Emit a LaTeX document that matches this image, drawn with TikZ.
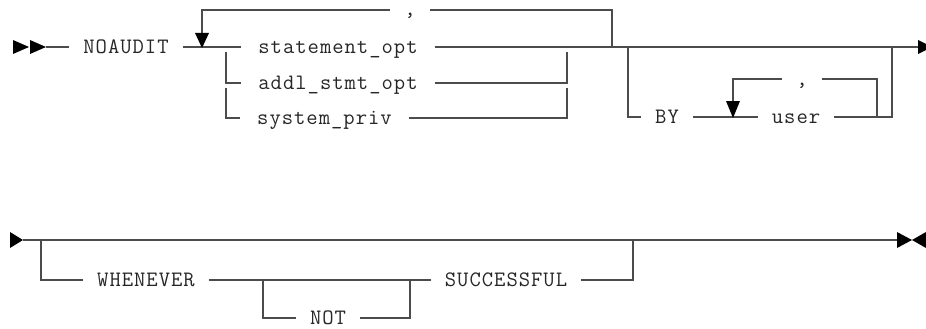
\documentclass[tikz,border=0pt]{standalone}
\usepackage{fontspec}
\newfontfamily\rrfont[LetterSpace=4.5]{Latin Modern Mono}
\begin{document}
\begin{tikzpicture}[x=1pt,y=-1pt,
  rr/.style={draw=black!70,line width=1.3pt},
  term/.style={font=\rrfont\fontsize{22}{26}\selectfont, text=black!85,
    inner xsep=14pt, inner ysep=0pt, text height=14pt, text depth=2pt},
  tipfill/.style={fill=black}]
\useasboundingbox (0,0) rectangle (926,329);

% ---------- row 1 nodes ----------
\node[term] (noaudit) at (126,47) {NOAUDIT};
\node[term,inner xsep=17pt] (stmt) at (338,47) {statement\_opt};
\node[term,inner xsep=17pt] (addl) at (338,83) {addl\_stmt\_opt};
\node[term,inner xsep=17pt,anchor=west] (sysp) at (240,118) {system\_priv};
\node[term] (comma1) at (410,10) {,};
\node[term] (by) at (667,117) {BY};
\node[term] (user) at (796,117) {user};
\node[term] (comma2) at (802,79) {,};

% ---------- row 1 connectors ----------
\fill[tipfill] (13,40) -- (29,47) -- (13,54) -- cycle;
\fill[tipfill] (30,40) -- (46,47) -- (30,54) -- cycle;
\draw[rr] (46,47) -- (noaudit.west);
\draw[rr] (noaudit.east) -- (stmt.west);
\draw[rr] (stmt.east) -- (918,47);
\fill[tipfill] (918,40) -- (932,47) -- (918,54) -- cycle;

\draw[rr] (612,47) -- (612,10) -- (comma1.east);
\draw[rr] (comma1.west) -- (202,10) -- (202,34);
\fill[tipfill] (195,33) -- (209,33) -- (202,48) -- cycle;

\draw[rr] (226,52) -- (226,83) -- (addl.west);
\draw[rr] (226,88) -- (226,118) -- (sysp.west);
\draw[rr] (addl.east) -- (567,83) -- (567,52);
\draw[rr] (sysp.east) -- (567,118) -- (567,88);

\draw[rr] (628,47) -- (628,117) -- (by.west);
\draw[rr] (by.east) -- (user.west);
\draw[rr] (user.east) -- (892,117) -- (892,47);
\draw[rr] (877,117) -- (877,79) -- (comma2.east);
\draw[rr] (comma2.west) -- (733,79) -- (733,102);
\fill[tipfill] (726,101) -- (740,101) -- (733,118) -- cycle;

% ---------- row 2 nodes ----------
\node[term] (whenever) at (146,280) {WHENEVER};
\node[term] (not) at (328,318) {NOT};
\node[term] (succ) at (506,280) {SUCCESSFUL};

% ---------- row 2 connectors ----------
\fill[tipfill] (10,232) -- (23,240) -- (10,248) -- cycle;
\draw[rr] (23,240) -- (897,240);
\fill[tipfill] (897,232) -- (912,240) -- (897,248) -- cycle;
\fill[tipfill] (926,232) -- (912,240) -- (926,248) -- cycle;

\draw[rr] (41,240) -- (41,280) -- (whenever.west);
\draw[rr] (whenever.east) -- (succ.west);
\draw[rr] (263,280) -- (263,318) -- (not.west);
\draw[rr] (not.east) -- (410,318) -- (410,280);
\draw[rr] (succ.east) -- (633,280) -- (633,240);
\end{tikzpicture}
\end{document}
